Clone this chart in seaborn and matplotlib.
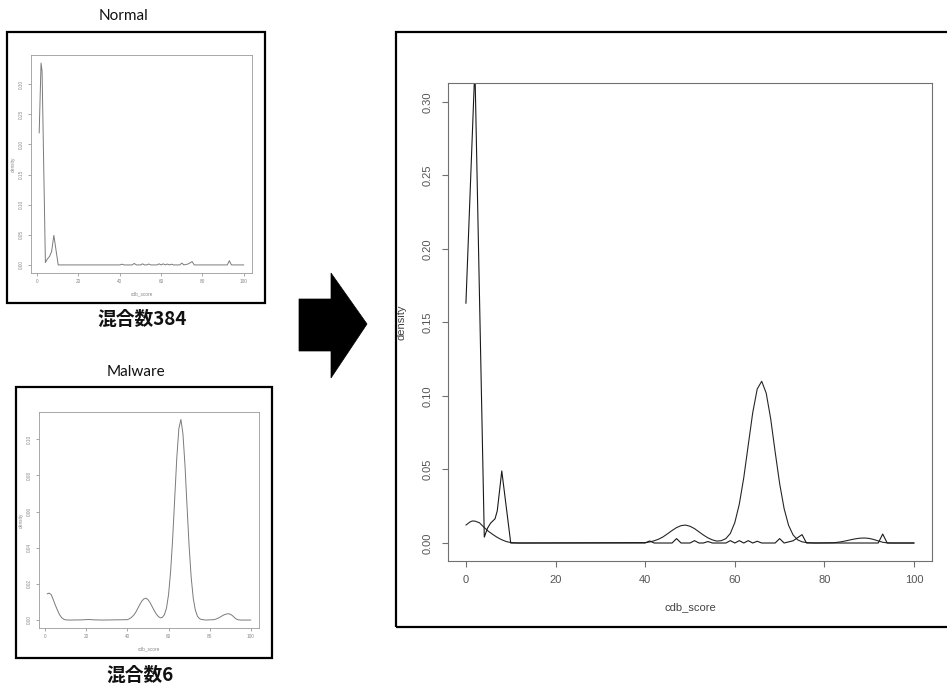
import matplotlib
matplotlib.use("Agg")
import matplotlib.pyplot as plt
from matplotlib.patches import Rectangle, Polygon
import seaborn as sns
import pandas as pd

# ---------------- data ----------------
# main (mixture) plot: Normal-like jagged density
main_normal_x = [0, 2, 4.1, 4.8, 5.5, 6.5, 7, 8, 10, 40, 41, 42, 46, 47, 48, 50, 51, 52,
                 53, 54, 55, 58, 59, 60, 61, 62, 63, 64, 65, 66, 67, 69, 70, 71, 73, 75,
                 76, 92, 93, 94, 100]
main_normal_y = [0.163, 0.324, 0.004, 0.010, 0.0135, 0.0165, 0.022, 0.049, 0, 0, 0.0014, 0,
                 0, 0.003, 0, 0, 0.0016, 0, 0, 0.001, 0, 0, 0.0016, 0, 0.0016, 0, 0.0016,
                 0, 0.0012, 0, 0, 0, 0.003, 0, 0.0015, 0.0057, 0, 0, 0.0061, 0, 0]

# main (mixture) plot: Malware-like smooth density
main_malware_x = [0, 1, 1.5, 2, 3, 4, 5, 6, 7, 8, 9, 10, 11, 12, 40, 41, 42, 43, 44, 45,
                  46, 47, 48, 49, 50, 51, 52, 53, 54, 55, 56, 57, 58, 59, 60, 61, 62, 63,
                  64, 65, 66, 67, 68, 69, 70, 71, 72, 73, 74, 75, 76, 78, 82, 83, 84, 85,
                  86, 87, 88, 89, 90, 91, 92, 93, 94, 95, 100]
main_malware_y = [0.0122, 0.0145, 0.0150, 0.0149, 0.0138, 0.0108, 0.0080, 0.0058, 0.0038,
                  0.0022, 0.0010, 0.0003, 0.0001, 0.0, 0.0003, 0.0007, 0.0015, 0.0026,
                  0.0042, 0.0063, 0.0085, 0.0105, 0.0118, 0.0122, 0.0114, 0.0098, 0.0076,
                  0.0054, 0.0035, 0.0021, 0.0013, 0.0016, 0.0030, 0.0065, 0.0139, 0.0264,
                  0.0445, 0.0667, 0.0887, 0.1048, 0.1100, 0.1020, 0.0846, 0.0620, 0.0405,
                  0.0234, 0.0120, 0.0055, 0.0022, 0.0008, 0.0003, 0.0, 0.0002, 0.0005,
                  0.0010, 0.0016, 0.0023, 0.0029, 0.0033, 0.0034, 0.0031, 0.0024, 0.0014,
                  0.0005, 0.0001, 0.0, 0.0]

# small "Normal" panel
normal_x = [1, 1.9, 2.4, 4, 5, 6, 7, 8.1, 10.2, 40, 41, 42, 46, 47, 48, 50, 51, 52, 53, 54,
            55, 58, 59, 60, 61, 62, 63, 64, 65, 66, 69, 70, 71, 73, 75, 76, 92, 93, 94, 100]
normal_y = [0.219, 0.335, 0.321, 0.004, 0.010, 0.014, 0.022, 0.049, 0, 0, 0.0012, 0, 0,
            0.0025, 0, 0, 0.0018, 0, 0, 0.0015, 0, 0, 0.0018, 0, 0.0018, 0, 0.0015, 0,
            0.0012, 0, 0, 0.003, 0, 0.0015, 0.0055, 0, 0, 0.007, 0, 0]

# small "Malware" panel
malware_x = [1, 2, 3, 4, 5, 6, 7, 8, 9, 10, 12, 18, 21, 24, 28, 40, 41, 42, 43, 44, 45, 46,
             47, 48, 49, 50, 51, 52, 53, 54, 55, 56, 57, 58, 59, 60, 61, 62, 63, 64, 65, 66,
             67, 68, 69, 70, 71, 72, 73, 74, 75, 76, 78, 82, 83, 84, 85, 86, 87, 88, 89,
             90, 91, 92, 93, 94, 95, 100]
malware_y = [0.0145, 0.0149, 0.0140, 0.0112, 0.0082, 0.0055, 0.0030, 0.0014, 0.0005,
             0.0001, 0.0, 0.0001, 0.0003, 0.0001, 0.0, 0.0002, 0.0007, 0.0015, 0.0026,
             0.0042, 0.0063, 0.0085, 0.0105, 0.0117, 0.0121, 0.0113, 0.0097, 0.0075,
             0.0053, 0.0034, 0.0020, 0.0012, 0.0015, 0.0030, 0.0066, 0.0141, 0.0267,
             0.0450, 0.0674, 0.0896, 0.1058, 0.1110, 0.1030, 0.0854, 0.0626, 0.0409,
             0.0236, 0.0121, 0.0056, 0.0022, 0.0008, 0.0003, 0.0, 0.0002, 0.0005, 0.0010,
             0.0016, 0.0023, 0.0029, 0.0033, 0.0035, 0.0032, 0.0025, 0.0014, 0.0005,
             0.0001, 0.0, 0.0]

x_ticks = [0, 20, 40, 60, 80, 100]
main_y_ticks = [0.00, 0.05, 0.10, 0.15, 0.20, 0.25, 0.30]
normal_y_ticks = [0.00, 0.05, 0.10, 0.15, 0.20, 0.25, 0.30]
malware_y_ticks = [0.00, 0.02, 0.04, 0.06, 0.08, 0.10]

# ---------------- style ----------------
sns.set_theme(style="white")
plt.rcParams['font.family'] = ['Liberation Sans', 'DejaVu Sans']

W, H = 947, 689
fig = plt.figure(figsize=(W / 100, H / 100), dpi=100)
fig.patch.set_facecolor('white')


def fx(x):
    return x / W


def fy(y):
    return 1 - y / H


def add_ax(left, top, right, bottom):
    return fig.add_axes([fx(left), fy(bottom), (right - left) / W, (bottom - top) / H])


def style_axes(ax, xlim, ylim, yticks, fs, tick_len, xpad, ypad, frame_col, lw, text_col):
    ax.set_xlim(*xlim)
    ax.set_ylim(*ylim)
    ax.set_xticks(x_ticks)
    ax.set_xticklabels([str(t) for t in x_ticks])
    ax.set_yticks(yticks)
    ax.set_yticklabels(["%.2f" % t for t in yticks])
    for s in ax.spines.values():
        s.set_visible(True)
        s.set_color(frame_col)
        s.set_linewidth(lw)
    ax.tick_params(axis='both', which='major', direction='out', length=tick_len,
                   width=lw, color=frame_col, labelsize=fs, labelcolor=text_col,
                   bottom=True, left=True, top=False, right=False)
    ax.tick_params(axis='x', pad=xpad)
    ax.tick_params(axis='y', pad=ypad)
    for lab in ax.get_yticklabels():
        lab.set_rotation(90)
        lab.set_va('center')
        lab.set_ha('right')
    ax.grid(False)
    ax.set_facecolor('white')


# ---------------- main mixture plot ----------------
ax = add_ax(448, 83, 932, 561)
df_mn = pd.DataFrame({'cdb_score': main_normal_x, 'density': main_normal_y})
df_mm = pd.DataFrame({'cdb_score': main_malware_x, 'density': main_malware_y})
sns.lineplot(data=df_mm, x='cdb_score', y='density', ax=ax, color='#262626',
             linewidth=0.8, estimator=None, sort=False, legend=False)
sns.lineplot(data=df_mn, x='cdb_score', y='density', ax=ax, color='#1a1a1a',
             linewidth=0.8, estimator=None, sort=False, legend=False)
style_axes(ax, (-4, 104), (-0.01224, 0.3129), main_y_ticks, 8, 4.5, 5.5, 6.5,
           '#707070', 0.8, '#555555')
ax.set_xlabel('cdb_score', fontsize=8, color='#444444')
ax.set_ylabel('density', fontsize=8, color='#444444')
ax.xaxis.set_label_coords(0.5, -0.087)
ax.yaxis.set_label_coords(-0.085, 0.5)

# ---------------- small Normal plot ----------------
axn = add_ax(31, 55, 252, 273)
df_n = pd.DataFrame({'cdb_score': normal_x, 'density': normal_y})
sns.lineplot(data=df_n, x='cdb_score', y='density', ax=axn, color='#7a7a7a',
             linewidth=0.7, estimator=None, sort=False, legend=False)
style_axes(axn, (-2.96, 103.96), (-0.0134, 0.3484), normal_y_ticks, 3.4, 2, 2.5, 3.0,
           '#9a9a9a', 0.6, '#888888')
axn.set_xlabel('cdb_score', fontsize=3.4, color='#888888')
axn.set_ylabel('density', fontsize=3.4, color='#888888')
axn.xaxis.set_label_coords(0.5, -0.085)
axn.yaxis.set_label_coords(-0.07, 0.5)

# ---------------- small Malware plot ----------------
axm = add_ax(39, 412, 259, 628)
df_m = pd.DataFrame({'cdb_score': malware_x, 'density': malware_y})
sns.lineplot(data=df_m, x='cdb_score', y='density', ax=axm, color='#7a7a7a',
             linewidth=0.7, estimator=None, sort=False, legend=False)
style_axes(axm, (-2.96, 103.96), (-0.0044, 0.1151), malware_y_ticks, 3.4, 2, 2.5, 3.0,
           '#9a9a9a', 0.6, '#888888')
axm.set_xlabel('cdb_score', fontsize=3.4, color='#888888')
axm.set_ylabel('density', fontsize=3.4, color='#888888')
axm.xaxis.set_label_coords(0.5, -0.085)
axm.yaxis.set_label_coords(-0.07, 0.5)

# ---------------- frames ----------------
def frame(left, top, right, bottom):
    r = Rectangle((fx(left), fy(bottom)), (right - left) / W, (bottom - top) / H,
                  transform=fig.transFigure, fill=False, edgecolor='black',
                  linewidth=1.6, zorder=10)
    fig.add_artist(r)


frame(7, 32, 265, 303)
frame(16, 387, 272, 658)
frame(396, 32, 960, 627)

# ---------------- arrow ----------------
arrow_px = [(299, 299), (331, 299), (331, 273), (367, 324), (331, 378), (331, 351), (299, 351)]
arrow = Polygon([(fx(a), fy(b)) for a, b in arrow_px], closed=True,
                transform=fig.transFigure, facecolor='black', edgecolor='black', lw=0.5)
fig.add_artist(arrow)

# ---------------- texts ----------------
fig.text(fx(123), fy(16), 'Normal', ha='center', va='center', fontsize=11,
         family=['Lato', 'DejaVu Sans'], color='#111111')
fig.text(fx(136), fy(372), 'Malware', ha='center', va='center', fontsize=11,
         family=['Lato', 'DejaVu Sans'], color='#111111')
fig.text(fx(142), fy(319), '混合数384', ha='center', va='center', fontsize=13.5,
         family=['Noto Sans CJK JP', 'DejaVu Sans'], weight='bold', color='#111111')
fig.text(fx(140), fy(675), '混合数6', ha='center', va='center', fontsize=13.5,
         family=['Noto Sans CJK JP', 'DejaVu Sans'], weight='bold', color='#111111')

fig.savefig('out.png', dpi=100, facecolor='white')
